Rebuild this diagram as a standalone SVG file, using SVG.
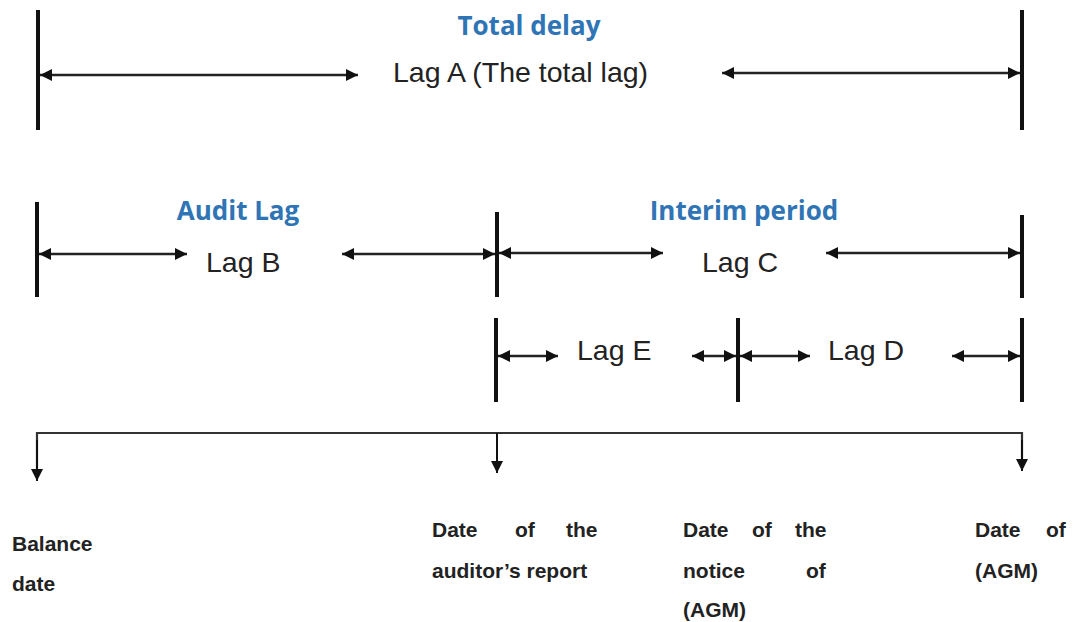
<svg xmlns="http://www.w3.org/2000/svg" width="1074" height="622" viewBox="0 0 1074 622">
  <defs>
    <marker id="head" viewBox="0 0 10 10" refX="10" refY="5" markerWidth="4.8" markerHeight="4.8" orient="auto-start-reverse" markerUnits="strokeWidth">
      <path d="M0,0 L10,5 L0,10 z" fill="#111"/>
    </marker>
    <marker id="down" viewBox="0 0 10 10" refX="10" refY="5" markerWidth="6" markerHeight="6" orient="auto" markerUnits="strokeWidth">
      <path d="M0,0 L10,5 L0,10 z" fill="#111"/>
    </marker>
  </defs>
  <style>
    .bar { stroke: #111; stroke-width: 4; }
    .span { stroke: #222; stroke-width: 2.5; fill: none; marker-end: url(#head); }
    .bracket { stroke: #333; stroke-width: 2.2; fill: none; }
    .drop { stroke: #111; stroke-width: 2; fill: none; marker-end: url(#down); }
    .title { font-family: "Open Sans", Lato, sans-serif; font-weight: bold; font-size: 26px; fill: #2f75b5; text-anchor: middle; }
    .lag { font-family: "Liberation Sans", Arial, sans-serif; font-size: 28.5px; fill: #222; }
    .date { font-family: "Liberation Sans", Arial, sans-serif; font-weight: bold; font-size: 21px; fill: #222; }
  </style>
  <rect width="1074" height="622" fill="#ffffff"/>

  <!-- boundary bars -->
  <g id="bars">
    <line class="bar" x1="38" y1="10" x2="38" y2="130"/>
    <line class="bar" x1="1022" y1="10" x2="1022" y2="130"/>
    <line class="bar" x1="37" y1="202" x2="37" y2="297"/>
    <line class="bar" x1="497" y1="212" x2="497" y2="297"/>
    <line class="bar" x1="1022" y1="215" x2="1022" y2="298"/>
    <line class="bar" x1="496" y1="318" x2="496" y2="402"/>
    <line class="bar" x1="738" y1="318" x2="738" y2="402"/>
    <line class="bar" x1="1022" y1="318" x2="1022" y2="402"/>
  </g>

  <!-- lag spans -->
  <g id="connectors">
    <!-- Lag A -->
    <line class="span" x1="40" y1="75" x2="358" y2="75" style="marker-start:url(#head)"/>
    <line class="span" x1="722" y1="73" x2="1020" y2="73" style="marker-start:url(#head)"/>
    <!-- Lag B -->
    <line class="span" x1="39" y1="254" x2="187" y2="254" style="marker-start:url(#head)"/>
    <line class="span" x1="342" y1="254" x2="495" y2="254" style="marker-start:url(#head)"/>
    <!-- Lag C -->
    <line class="span" x1="499" y1="253" x2="663" y2="253" style="marker-start:url(#head)"/>
    <line class="span" x1="826" y1="253" x2="1020" y2="253" style="marker-start:url(#head)"/>
    <!-- Lag E -->
    <line class="span" x1="498" y1="356" x2="558" y2="356" style="marker-start:url(#head)"/>
    <line class="span" x1="692" y1="356" x2="736" y2="356" style="marker-start:url(#head)"/>
    <!-- Lag D -->
    <line class="span" x1="740" y1="356" x2="810" y2="356" style="marker-start:url(#head)"/>
    <line class="span" x1="952" y1="356" x2="1020" y2="356" style="marker-start:url(#head)"/>
    <!-- date bracket -->
    <path class="bracket" d="M37,470 V433 H1022 V460"/>
    <line class="drop" x1="37" y1="440" x2="37" y2="481"/>
    <line class="drop" x1="497" y1="433" x2="497" y2="473"/>
    <line class="drop" x1="1022" y1="440" x2="1022" y2="471"/>
  </g>

  <!-- labels -->
  <g id="lag-a">
    <text class="title" x="529" y="35">Total delay</text>
    <text class="lag" x="393" y="82">Lag A (The total lag)</text>
  </g>
  <g id="lag-b">
    <text class="title" x="238" y="220">Audit Lag</text>
    <text class="lag" x="206" y="272">Lag B</text>
  </g>
  <g id="lag-c">
    <text class="title" x="744" y="220">Interim period</text>
    <text class="lag" x="702" y="272">Lag C</text>
  </g>
  <g id="lag-e">
    <text class="lag" x="577" y="360">Lag E</text>
  </g>
  <g id="lag-d">
    <text class="lag" x="828" y="360">Lag D</text>
  </g>

  <!-- dates -->
  <g id="balance-date">
    <text class="date" x="12" y="551">Balance</text>
    <text class="date" x="12" y="591">date</text>
  </g>
  <g id="auditor-report-date">
    <text class="date" x="432" y="537">Date</text>
    <text class="date" x="515" y="537">of</text>
    <text class="date" x="566" y="537">the</text>
    <text class="date" x="432" y="578">auditor’s report</text>
  </g>
  <g id="notice-date">
    <text class="date" x="683" y="537">Date</text>
    <text class="date" x="752" y="537">of</text>
    <text class="date" x="795" y="537">the</text>
    <text class="date" x="683" y="578">notice</text>
    <text class="date" x="806" y="578">of</text>
    <text class="date" x="683" y="617">(AGM)</text>
  </g>
  <g id="agm-date">
    <text class="date" x="975" y="537">Date</text>
    <text class="date" x="1046" y="537">of</text>
    <text class="date" x="975" y="578">(AGM)</text>
  </g>
</svg>
